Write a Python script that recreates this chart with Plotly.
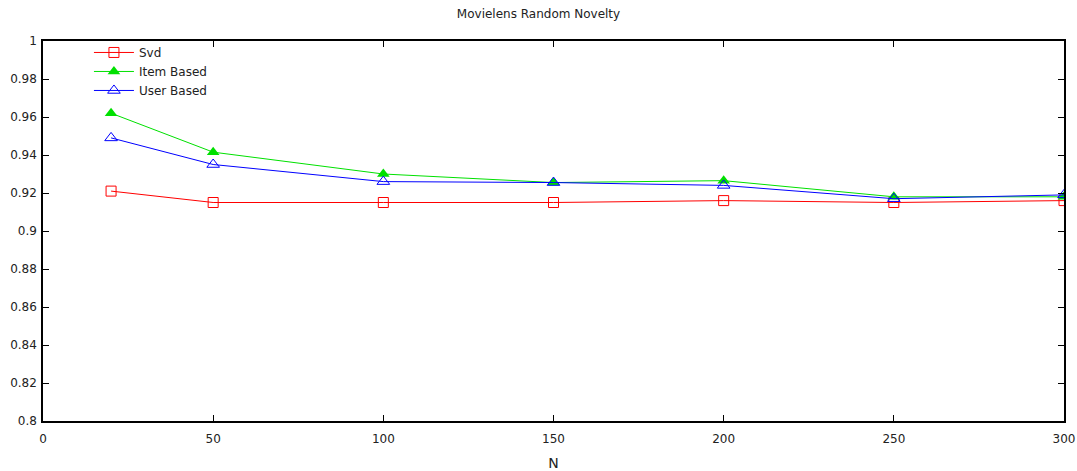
import plotly.graph_objects as go

n_values = [20, 50, 100, 150, 200, 250, 300]
svd = [0.921, 0.915, 0.915, 0.915, 0.916, 0.915, 0.916]
item_based = [0.962, 0.9415, 0.930, 0.9255, 0.9265, 0.918, 0.918]
user_based = [0.949, 0.935, 0.926, 0.9255, 0.924, 0.917, 0.919]

x_ticks = [0, 50, 100, 150, 200, 250, 300]
y_ticks = [0.8, 0.82, 0.84, 0.86, 0.88, 0.9, 0.92, 0.94, 0.96, 0.98, 1]

font = dict(family="DejaVu Sans", size=12, color="#222222")

fig = go.Figure()
fig.add_trace(go.Scatter(x=n_values, y=svd, name="Svd", mode="lines+markers",
                         line=dict(color="#ff0000", width=1),
                         marker=dict(symbol="square-open", size=10, color="#ff0000", line=dict(width=1))))
fig.add_trace(go.Scatter(x=n_values, y=item_based, name="Item Based", mode="lines+markers",
                         line=dict(color="#00e000", width=1),
                         marker=dict(symbol="triangle-up", size=11, color="#00e000")))
fig.add_trace(go.Scatter(x=n_values, y=user_based, name="User Based", mode="lines+markers",
                         line=dict(color="#0000ff", width=1),
                         marker=dict(symbol="triangle-up-open", size=11, color="#0000ff", line=dict(width=1))))

axis_common = dict(showgrid=False, zeroline=False, showline=True, linecolor="black", linewidth=1.5,
                   mirror="allticks", ticks="inside", ticklen=6, tickcolor="black", tickwidth=1,
                   tickfont=font, automargin=False)

fig.update_layout(
    width=1077, height=471,
    margin=dict(l=43, r=13, t=41, b=50, autoexpand=False),
    paper_bgcolor="white", plot_bgcolor="white",
    font=font,
    title=dict(text="Movielens Random Novelty", x=0.5, xanchor="center", y=0.97, yanchor="middle",
               font=dict(family="DejaVu Sans", size=12, color="#222222"), automargin=False),
    xaxis=dict(range=[0, 300], tickvals=x_ticks, ticklabelstandoff=6,
               title=dict(text="N", standoff=14), **axis_common),
    yaxis=dict(range=[0.8, 1], tickvals=y_ticks, ticktext=[f"{v:g}" for v in y_ticks],
               ticklabelstandoff=2, **axis_common),
    legend=dict(x=0.045, y=1.008, xanchor="left", yanchor="top", bgcolor="rgba(0,0,0,0)",
                font=font, tracegroupgap=0, itemwidth=40),
    showlegend=True,
)

fig.write_html("out.html", config={"displayModeBar": False},
               post_script="document.body.style.margin='0';")
